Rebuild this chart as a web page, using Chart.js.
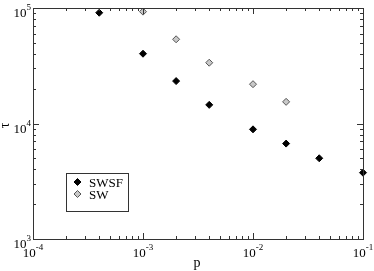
<!DOCTYPE html>
<html>
<head>
<meta charset="utf-8">
<script src="https://cdn.jsdelivr.net/npm/chart.js@4.4.1/dist/chart.umd.min.js"></script>
<style>
  html, body { margin: 0; padding: 0; background: #fff; }
  #wrap { width: 374px; height: 271px; }
</style>
</head>
<body>
<div id="wrap"><canvas id="tauChart" width="374" height="271"></canvas></div>
<script>
// data
const swsfP = [4e-4, 1e-3, 2e-3, 4e-3, 1e-2, 2e-2, 4e-2, 1e-1];
const swsfTau = [91000, 40200, 23300, 14500, 8900, 6700, 5000, 3750];
const swP = [1e-3, 2e-3, 4e-3, 1e-2, 2e-2];
const swTau = [93000, 53600, 33600, 21900, 15400];
const xTickExps = [-4, -3, -2, -1];
const yTickExps = [3, 4, 5];
const seriesNames = ["SWSF", "SW"];

const FONT = "'Liberation Serif', 'Times New Roman', serif";

const toPoints = (xs, ys) => xs.map((x, i) => ({ x: x, y: ys[i] }));

// draws the frame, inward ticks, 10^n labels, axis titles and legend
const axesPlugin = {
    id: "axesPlugin",
    afterDraw(chart) {
        const ctx = chart.ctx;
        const { left, right, top, bottom } = chart.chartArea;
        const xs = chart.scales.x, ys = chart.scales.y;
        ctx.save();
        ctx.strokeStyle = "#333";
        ctx.lineWidth = 1;
        ctx.strokeRect(Math.round(left) + 0.5, Math.round(top) + 0.5, Math.round(right - left), Math.round(bottom - top));

        const line = (x1, y1, x2, y2) => {
            ctx.beginPath();
            ctx.moveTo(x1, y1);
            ctx.lineTo(x2, y2);
            ctx.stroke();
        };

        // x ticks
        for (let e = xTickExps[0]; e <= xTickExps[xTickExps.length - 1]; e++) {
            for (let m = 1; m <= 9; m++) {
                const v = m * Math.pow(10, e);
                if (v > Math.pow(10, xTickExps[xTickExps.length - 1]) + 1e-12) break;
                const px = Math.round(xs.getPixelForValue(v)) + 0.5;
                const len = m === 1 ? 6 : 3;
                line(px, bottom, px, bottom - len);
                line(px, top, px, top + len);
            }
        }
        // y ticks
        for (let e = yTickExps[0]; e <= yTickExps[yTickExps.length - 1]; e++) {
            for (let m = 1; m <= 9; m++) {
                const v = m * Math.pow(10, e);
                if (v > Math.pow(10, yTickExps[yTickExps.length - 1]) + 1e-6) break;
                const py = Math.round(ys.getPixelForValue(v)) + 0.5;
                const len = m === 1 ? 6 : 3;
                line(left, py, left + len, py);
                line(right, py, right - len, py);
            }
        }

        ctx.fillStyle = "#000";
        ctx.textBaseline = "alphabetic";
        const baseFont = "13px " + FONT;
        const supFont = "9px " + FONT;

        const labelWidth = (exp) => {
            ctx.font = baseFont;
            const w1 = ctx.measureText("10").width;
            ctx.font = supFont;
            const w2 = ctx.measureText(String(exp)).width;
            return [w1, w2];
        };
        const drawPow = (x0, baseline, exp) => {
            const [w1] = labelWidth(exp);
            ctx.font = baseFont;
            ctx.textAlign = "left";
            ctx.fillText("10", x0, baseline);
            ctx.font = supFont;
            ctx.fillText(String(exp), x0 + w1, baseline - 7);
        };

        xTickExps.forEach(e => {
            const px = xs.getPixelForValue(Math.pow(10, e));
            const [w1, w2] = labelWidth(e);
            drawPow(px - (w1 + w2) / 2, bottom + 18, e);
        });
        yTickExps.forEach(e => {
            const py = ys.getPixelForValue(Math.pow(10, e));
            const [w1, w2] = labelWidth(e);
            drawPow(left - 2 - w1 - w2, py + 9, e);
        });

        // axis titles
        ctx.font = "14px " + FONT;
        ctx.textAlign = "center";
        ctx.fillText("p", (left + right) / 2 - 1, bottom + 28);
        ctx.save();
        ctx.translate(9, (top + bottom) / 2 + 2);
        ctx.rotate(-Math.PI / 2);
        ctx.fillText("τ", 0, 0);
        ctx.restore();

        // legend box
        const lx = 66, ly = 173, lw = 62, lh = 38;
        ctx.fillStyle = "#fff";
        ctx.fillRect(lx, ly, lw, lh);
        ctx.strokeStyle = "#333";
        ctx.strokeRect(lx + 0.5, ly + 0.5, lw, lh);
        chart.data.datasets.forEach((ds, i) => {
            const cy = ly + 9 + i * 12;
            ctx.beginPath();
            ctx.moveTo(77.5, cy - 3.5);
            ctx.lineTo(81, cy);
            ctx.lineTo(77.5, cy + 3.5);
            ctx.lineTo(74, cy);
            ctx.closePath();
            ctx.fillStyle = ds.backgroundColor;
            ctx.fill();
            ctx.strokeStyle = ds.borderColor;
            ctx.stroke();
            ctx.fillStyle = "#000";
            ctx.font = "13px " + FONT;
            ctx.textAlign = "left";
            ctx.fillText(seriesNames[i], 89, cy + 4.5);
        });
        ctx.restore();
    }
};

new Chart(document.getElementById("tauChart").getContext("2d"), {
    type: "scatter",
    data: {
        datasets: [
            {
                label: seriesNames[0],
                data: toPoints(swsfP, swsfTau),
                pointStyle: "rectRot",
                pointRadius: 3.5,
                backgroundColor: "#000",
                borderColor: "#000",
                borderWidth: 1,
                clip: false
            },
            {
                label: seriesNames[1],
                data: toPoints(swP, swTau),
                pointStyle: "rectRot",
                pointRadius: 3.5,
                backgroundColor: "#c8c8c8",
                borderColor: "#555",
                borderWidth: 1,
                clip: false
            }
        ]
    },
    options: {
        responsive: false,
        animation: false,
        layout: { padding: { left: 33, right: 11, top: 8, bottom: 32 } },
        plugins: { legend: { display: false }, tooltip: { enabled: false } },
        scales: {
            x: {
                type: "logarithmic",
                min: 1e-4,
                max: 1e-1,
                ticks: { display: false },
                grid: { display: false },
                border: { display: false },
                afterFit: s => { s.height = 0; }
            },
            y: {
                type: "logarithmic",
                min: 1e3,
                max: 1e5,
                ticks: { display: false },
                grid: { display: false },
                border: { display: false },
                afterFit: s => { s.width = 0; }
            }
        }
    },
    plugins: [axesPlugin]
});
</script>
</body>
</html>
